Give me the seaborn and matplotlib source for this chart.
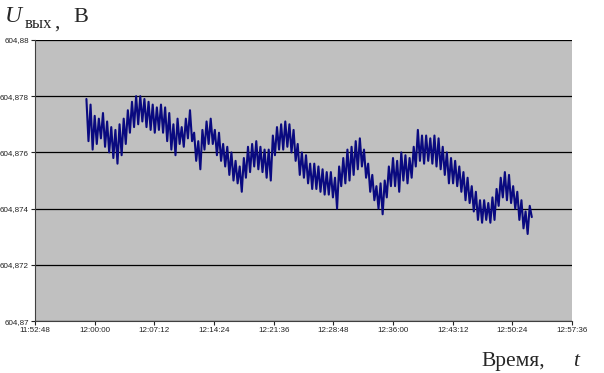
import numpy as np
import pandas as pd
import matplotlib
matplotlib.use("Agg")
import matplotlib.pyplot as plt
import matplotlib.dates as mdates
import seaborn as sns

sns.set_theme(style="white")
plt.rcParams['font.family'] = ['Liberation Sans', 'DejaVu Sans']

# output voltage readings, one every 15 s from 11:59:00
u_out = [
    604.8779, 604.8764, 604.8777, 604.8761, 604.8773, 604.8763, 604.8772, 604.8765, 604.8774, 604.8762, 604.8771, 604.8760,
    604.8769, 604.8758, 604.8768, 604.8756, 604.8770, 604.8759, 604.8772, 604.8763, 604.8775, 604.8767, 604.8778, 604.8769,
    604.8780, 604.8770, 604.8780, 604.8771, 604.8779, 604.8769, 604.8778, 604.8768, 604.8777, 604.8767, 604.8776, 604.8768,
    604.8777, 604.8767, 604.8776, 604.8764, 604.8774, 604.8761, 604.8770, 604.8759, 604.8772, 604.8763, 604.8769, 604.8762,
    604.8772, 604.8765, 604.8775, 604.8764, 604.8767, 604.8757, 604.8764, 604.8754, 604.8768, 604.8761, 604.8771, 604.8763,
    604.8772, 604.8763, 604.8768, 604.8759, 604.8767, 604.8757, 604.8763, 604.8755, 604.8762, 604.8752, 604.8760, 604.8750,
    604.8757, 604.8749, 604.8755, 604.8746, 604.8758, 604.8751, 604.8762, 604.8753, 604.8763, 604.8755, 604.8764, 604.8754,
    604.8762, 604.8753, 604.8761, 604.8751, 604.8761, 604.8750, 604.8766, 604.8759, 604.8769, 604.8761, 604.8770, 604.8761,
    604.8771, 604.8762, 604.8770, 604.8760, 604.8768, 604.8757, 604.8763, 604.8752, 604.8760, 604.8751, 604.8759, 604.8749,
    604.8756, 604.8747, 604.8756, 604.8747, 604.8755, 604.8746, 604.8754, 604.8745, 604.8753, 604.8745, 604.8753, 604.8744,
    604.8751, 604.8740, 604.8755, 604.8748, 604.8758, 604.8749, 604.8761, 604.8750, 604.8762, 604.8752, 604.8764, 604.8754,
    604.8765, 604.8755, 604.8761, 604.8751, 604.8756, 604.8746, 604.8752, 604.8743, 604.8748, 604.8740, 604.8749, 604.8738,
    604.8750, 604.8744, 604.8755, 604.8748, 604.8758, 604.8748, 604.8757, 604.8746, 604.8760, 604.8750, 604.8759, 604.8749,
    604.8758, 604.8751, 604.8762, 604.8755, 604.8768, 604.8757, 604.8766, 604.8756, 604.8766, 604.8757, 604.8765, 604.8756,
    604.8766, 604.8755, 604.8765, 604.8754, 604.8762, 604.8752, 604.8760, 604.8749, 604.8758, 604.8749, 604.8757, 604.8748,
    604.8755, 604.8746, 604.8753, 604.8743, 604.8751, 604.8742, 604.8748, 604.8739, 604.8746, 604.8736, 604.8743, 604.8735,
    604.8743, 604.8736, 604.8742, 604.8735, 604.8744, 604.8736, 604.8747, 604.8741, 604.8751, 604.8744, 604.8753, 604.8743,
    604.8752, 604.8742, 604.8748, 604.8740, 604.8746, 604.8736, 604.8743, 604.8733, 604.8739, 604.8731, 604.8741, 604.8737,
]
t_start = "2000-01-01 11:59:00"
y_ticks = [604.870, 604.872, 604.874, 604.876, 604.878, 604.880]
y_labels = ["604,87", "604,872", "604,874", "604,876", "604,878", "604,88"]
x_ticks = ["11:52:48", "12:00:00", "12:07:12", "12:14:24", "12:21:36",
           "12:28:48", "12:36:00", "12:43:12", "12:50:24", "12:57:36"]

df = pd.DataFrame({
    "time": pd.date_range(t_start, periods=len(u_out), freq="15s"),
    "u": u_out,
})
tick_times = pd.to_datetime(["2000-01-01 " + s for s in x_ticks])

fig = plt.figure(figsize=(6.04, 3.73), dpi=100)
ax = fig.add_axes([0.058, 0.139, 0.889, 0.754])
ax.set_facecolor("#c0c0c0")

sns.lineplot(data=df, x="time", y="u", color="#0a0a80", linewidth=1.5, ax=ax)

ax.set_xlim(tick_times[0], tick_times[-1])
ax.set_ylim(604.870, 604.880)
ax.set_yticks(y_ticks)
ax.set_yticklabels(y_labels)
ax.set_xticks(tick_times)
ax.set_xticklabels(x_ticks)
ax.yaxis.grid(True, color="black", linewidth=0.9)
ax.xaxis.grid(False)
ax.set_axisbelow(True)
ax.tick_params(axis="both", labelsize=5.8, colors="#222222", length=3, width=0.8,
               direction="out", pad=1.5)
ax.tick_params(left=True, bottom=True)
ax.set_xlabel("")
ax.set_ylabel("")
for side in ["top", "right"]:
    ax.spines[side].set_visible(False)
for side in ["left", "bottom"]:
    ax.spines[side].set_color("#404040")
    ax.spines[side].set_linewidth(0.8)

serif = ["Liberation Serif", "DejaVu Serif"]
fig.text(0.008, 0.942, "U", family=serif, style="italic", fontsize=17)
fig.text(0.041, 0.925, "вых", family=serif, fontsize=12)
fig.text(0.089, 0.925, ",", family=serif, fontsize=15)
fig.text(0.122, 0.942, "В", family=serif, fontsize=16)
fig.text(0.797, 0.018, "Время,", family=serif, fontsize=15.5)
fig.text(0.948, 0.018, "t", family=serif, style="italic", fontsize=15.5)

plt.savefig("out.png", dpi=100)
